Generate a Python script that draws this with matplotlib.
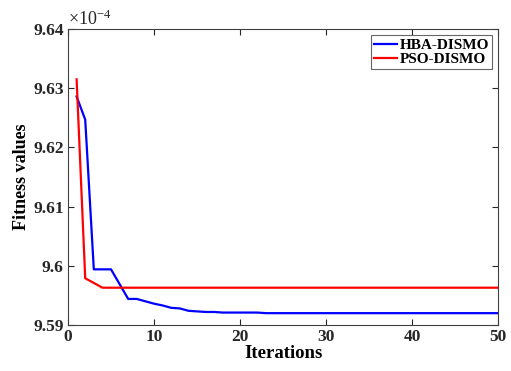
import numpy as np
import matplotlib.pyplot as plt
from matplotlib.ticker import FuncFormatter

plt.rcParams['font.family'] = ['Liberation Serif', 'DejaVu Serif']
plt.rcParams['font.weight'] = 'bold'
plt.rcParams['mathtext.fontset'] = 'stix'

# valores de fitness en unidades de 1e-4
iteraciones = np.arange(1, 51)
hba_dismo = [9.6286, 9.6247, 9.5994, 9.5994, 9.5994, 9.5969, 9.5944, 9.5944,
             9.5940, 9.5936, 9.5933, 9.5929, 9.5928, 9.5924, 9.5923, 9.5922,
             9.5922, 9.5921, 9.5921, 9.5921, 9.5921, 9.5921] + [9.5920] * 28
pso_dismo = [9.6315, 9.5979, 9.5971, 9.5963] + [9.5963] * 46

fig = plt.figure(figsize=(5.11, 3.71), dpi=100)
ax = fig.add_axes([0.1331, 0.124, 0.8415, 0.7978])

ax.plot(iteraciones, hba_dismo, color='#0000ff', lw=1.6, label='HBA-DISMO')
ax.plot(iteraciones, pso_dismo, color='#ff0000', lw=1.6, label='PSO-DISMO')

ax.set_xlim(0, 50)
ax.set_ylim(9.59, 9.64)
ax.set_xticks([0, 10, 20, 30, 40, 50])
ax.set_yticks([9.59, 9.60, 9.61, 9.62, 9.63, 9.64])
ax.yaxis.set_major_formatter(FuncFormatter(lambda v, p: '%g' % round(v, 2)))
ax.tick_params(direction='in', top=True, right=True, length=4, width=0.8,
               colors='#262626', labelsize=12.5, pad=3)
for lab in ax.get_xticklabels() + ax.get_yticklabels():
    lab.set_fontweight('bold')
for s in ax.spines.values():
    s.set_color('#404040')
    s.set_linewidth(0.8)

ax.set_xlabel('Iterations', fontsize=13.5, fontweight='bold', labelpad=0)
ax.set_ylabel('Fitness values', fontsize=13, fontweight='bold', labelpad=2)
ax.text(0.0, 1.0, r'$\mathregular{\times10^{-4}}$', transform=ax.transAxes,
        fontsize=13, fontweight='normal', ha='left', va='bottom',
        color='#262626')

leg = ax.legend(loc='upper right', fontsize=11, handlelength=1.5,
                handletextpad=0.15, borderpad=0.2, labelspacing=0.05,
                fancybox=False, borderaxespad=0.4)
leg.get_frame().set_edgecolor('#404040')
leg.get_frame().set_linewidth(0.8)
for t in leg.get_texts():
    t.set_fontweight('bold')

fig.savefig('out.png', dpi=100)
